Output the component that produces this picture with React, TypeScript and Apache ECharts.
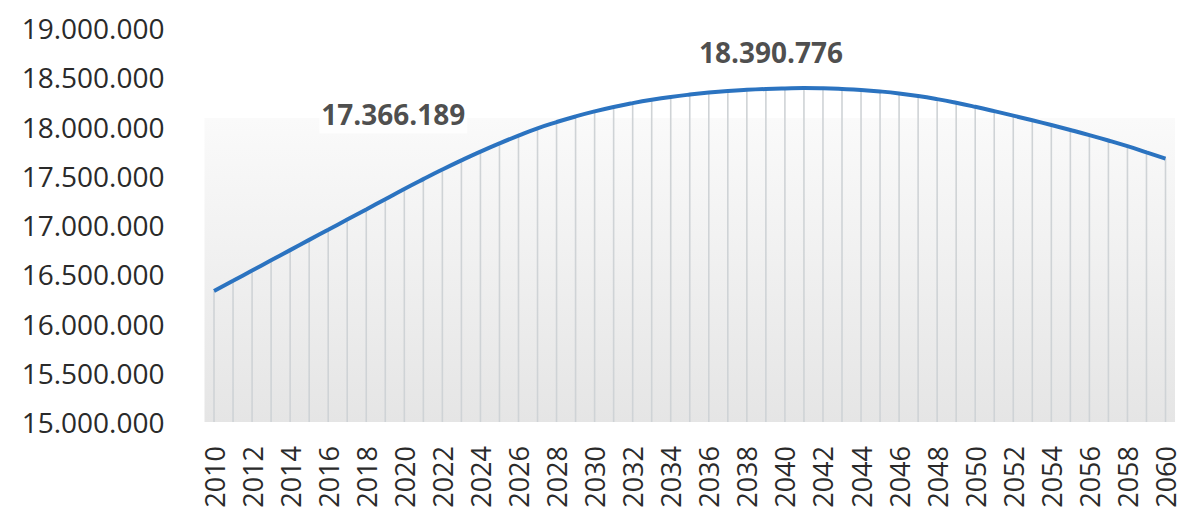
import React, { useEffect, useRef } from "react";
import * as echarts from "echarts";

const years: string[] = [];
for (let y = 2010; y <= 2060; y++) years.push(String(y));

// Population (projection) per year
const population: number[] = [
  16330000, 16433000, 16537000, 16641000, 16745000, 16849000, 16952000, 17055000, 17158000, 17262000,
  17366189, 17466000, 17563000, 17656000, 17745000, 17829000, 17908000, 17982000, 18045000, 18102000,
  18153000, 18198000, 18237000, 18271000, 18300000, 18324000, 18344000, 18360000, 18372000, 18381000,
  18387000, 18390776, 18388000, 18381000, 18371000, 18356000, 18336000, 18310000, 18278000, 18241000,
  18200000, 18156000, 18110000, 18063000, 18015000, 17965000, 17913000, 17858000, 17800000, 17738000,
  17674000,
];

const annotatedYears: string[] = ["2020", "2041"];
const annotationOffsets: number[][] = [[-11, -55], [-33, -17]];

const yMin = 15000000;
const yMax = 19000000;
const yStep = 500000;

const fmt = (v: number) =>
  String(Math.round(v)).replace(/\B(?=(\d{3})+(?!\d))/g, ".");

export default function App() {
  const ref = useRef<HTMLDivElement>(null);
  useEffect(() => {
    if (!ref.current) return;
    const chart = echarts.init(ref.current, null, { renderer: "svg" });
    const annData = annotatedYears.map((y, i) => {
      const idx = years.indexOf(y);
      return {
        value: [idx, population[idx]],
        label: { offset: annotationOffsets[i] },
      };
    });
    chart.setOption({
      animation: false,
      backgroundColor: "#ffffff",
      grid: {
        left: 204.5,
        right: 3.5,
        top: 28,
        bottom: 93,
        show: true,
        borderWidth: 0,
        backgroundColor: new echarts.graphic.LinearGradient(0, 0, 0, 1, [
          { offset: 0, color: "#ffffff" },
          { offset: 0.228, color: "#ffffff" },
          { offset: 0.229, color: "#fafafa" },
          { offset: 1, color: "#e5e5e5" },
        ]),
      },
      xAxis: {
        type: "category",
        data: years,
        boundaryGap: true,
        axisLine: { show: false },
        axisTick: { show: false },
        splitLine: { show: false },
        axisLabel: {
          interval: 1,
          rotate: 90,
          margin: 24,
          fontSize: 27,
          lineHeight: 22,
          fontFamily: "Open Sans",
          color: "#2a2a2a",
        },
      },
      yAxis: {
        type: "value",
        min: yMin,
        max: yMax,
        interval: yStep,
        axisLine: { show: false },
        axisTick: { show: false },
        splitLine: { show: false },
        axisLabel: {
          margin: 40,
          fontSize: 28,
          fontFamily: "Open Sans",
          color: "#2a2a2a",
          formatter: (v: number) => fmt(v),
        },
      },
      series: [
        {
          type: "bar",
          data: population,
          barWidth: 1.6,
          itemStyle: { color: "#cfd3d6" },
          z: 1,
          silent: true,
        },
        {
          type: "line",
          data: population,
          symbol: "none",
          smooth: true,
          lineStyle: { color: "#2b73c0", width: 4 },
          z: 3,
        },
        {
          type: "scatter",
          data: annData,
          symbolSize: 1,
          itemStyle: { color: "rgba(0,0,0,0)" },
          z: 4,
          label: {
            show: true,
            position: "top",
            distance: 0,
            fontSize: 28,
            fontWeight: "bold",
            fontFamily: "Open Sans",
            color: "#1e1e1e",
            lineHeight: 30,
            backgroundColor: "#ffffff",
            padding: [0, 2, 4, 2],
            formatter: (p: any) => fmt(p.value[1]),
          },
        },
      ],
    });
    return () => chart.dispose();
  }, []);
  return (
    <div
      ref={ref}
      style={{ position: "fixed", left: 0, top: 0, width: 1179, height: 515 }}
    />
  );
}
